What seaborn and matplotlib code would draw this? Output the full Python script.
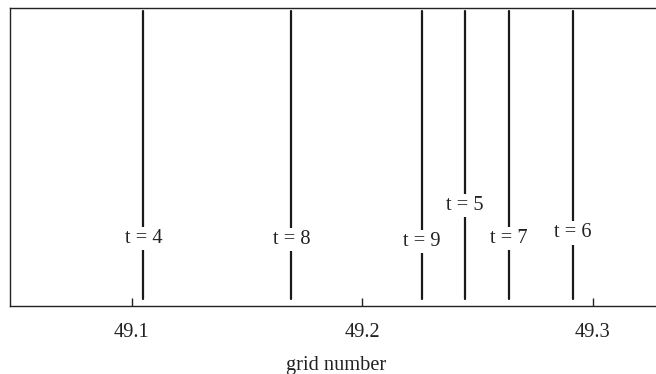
import numpy as np
import pandas as pd
import matplotlib
matplotlib.use("Agg")
import matplotlib.pyplot as plt
import seaborn as sns

# Data
times = ["t = 4", "t = 8", "t = 9", "t = 5", "t = 7", "t = 6"]
grid_values = [49.1051, 49.1692, 49.2257, 49.2445, 49.2637, 49.2912]
label_heights = [0.225, 0.222, 0.216, 0.336, 0.225, 0.245]
x_ticks = [49.1, 49.2, 49.3]
x_tick_labels = ["49.1", "49.2", "49.3"]

sns.set_theme(style="white")
plt.rcParams["font.family"] = ["Liberation Serif", "DejaVu Serif"]
plt.rcParams["mathtext.fontset"] = "stix"

FS = 14.7
line_bottom, line_top = 0.025, 0.99

rows = []
for t, x in zip(times, grid_values):
    rows.append({"t": t, "x": x, "y": line_bottom})
    rows.append({"t": t, "x": x, "y": line_top})
df = pd.DataFrame(rows)

fig = plt.figure(figsize=(6.56, 3.74), dpi=100)
ax = fig.add_axes([10 / 656, (374 - 306) / 374, (662 - 10) / 656, (306 - 8) / 374])

sns.lineplot(data=df, x="x", y="y", units="t", estimator=None, sort=False,
             color="#1a1a1a", linewidth=1.6, ax=ax, legend=False)

for t, x, h in zip(times, grid_values, label_heights):
    ax.text(x, h, t, ha="center", va="center", fontsize=FS, color="#222222",
            bbox=dict(facecolor="white", edgecolor="none", pad=1.5), zorder=5)

ax.set_xlim(49.0472, 49.33)
ax.set_ylim(0, 1)
ax.set_xticks(x_ticks)
ax.set_xticklabels(x_tick_labels, fontsize=FS, color="#222222")
ax.set_yticks([])
ax.set_ylabel("")
ax.set_xlabel("grid number", fontsize=FS, color="#222222", labelpad=10.5)
ax.tick_params(axis="x", direction="in", length=6, width=1, color="#222222", pad=12, bottom=True)

for side in ["top", "left", "bottom", "right"]:
    ax.spines[side].set_color("#222222")
    ax.spines[side].set_linewidth(1.0)

fig.savefig("out.png", dpi=100)
